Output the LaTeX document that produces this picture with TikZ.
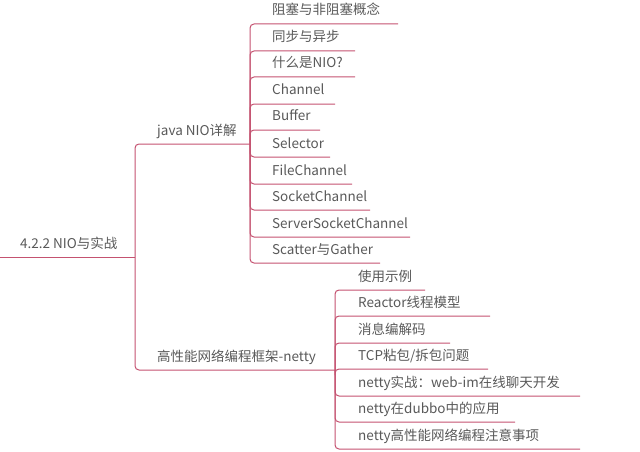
\documentclass[tikz,border=0pt]{standalone}
\usepackage{fontspec}
\setmainfont{Noto Sans CJK SC}
\definecolor{lncol}{RGB}{196,82,112}
\begin{document}
\begin{tikzpicture}[x=1pt,y=-1pt,
  lbl/.style={anchor=base west,text=black!65,font=\fontsize{13.5}{15}\selectfont,inner sep=0pt},
  ln/.style={draw=lncol,line width=1pt,rounded corners=4pt}]
\useasboundingbox (0,0) rectangle (640,452);
\node[lbl] (root) at (20,248) {4.2.2 NIO与实战};
\node[lbl] (b1) at (157,135) {java NIO详解};
\node[lbl] (b2) at (157,361) {高性能网络编程框架-netty};
\coordinate (r0) at (0,257);
\coordinate (j0) at (135,257);
\draw[ln] (r0) -- (j0);
\draw[ln] (j0) -- (135,144) -- (250,144);
\draw[ln] (j0) -- (135,370) -- (335,370);
\foreach \t/\y/\e [count=\i] in {阻塞与非阻塞概念/24/398,同步与异步/51/355,什么是NIO?/77/355,Channel/104/335,Buffer/130/320,Selector/157/330,FileChannel/184/352,SocketChannel/210/370,ServerSocketChannel/237/410,Scatter与Gather/263/380}{
  \node[lbl] (a\i) at (272,\y-9) {\t};
  \draw[ln] (250,144) -- (250,\y) -- (\e,\y);
}
\foreach \t/\y/\e [count=\i] in {使用示例/290/425,Reactor线程模型/316/490,消息编解码/343/450,{TCP粘包/拆包问题}/369/488,netty实战：web-im在线聊天开发/396/580,netty在dubbo中的应用/422/515,netty高性能网络编程注意事项/449/580}{
  \node[lbl] (n\i) at (358,\y-9) {\t};
  \draw[ln] (335,370) -- (335,\y) -- (\e,\y);
}
\end{tikzpicture}
\end{document}
